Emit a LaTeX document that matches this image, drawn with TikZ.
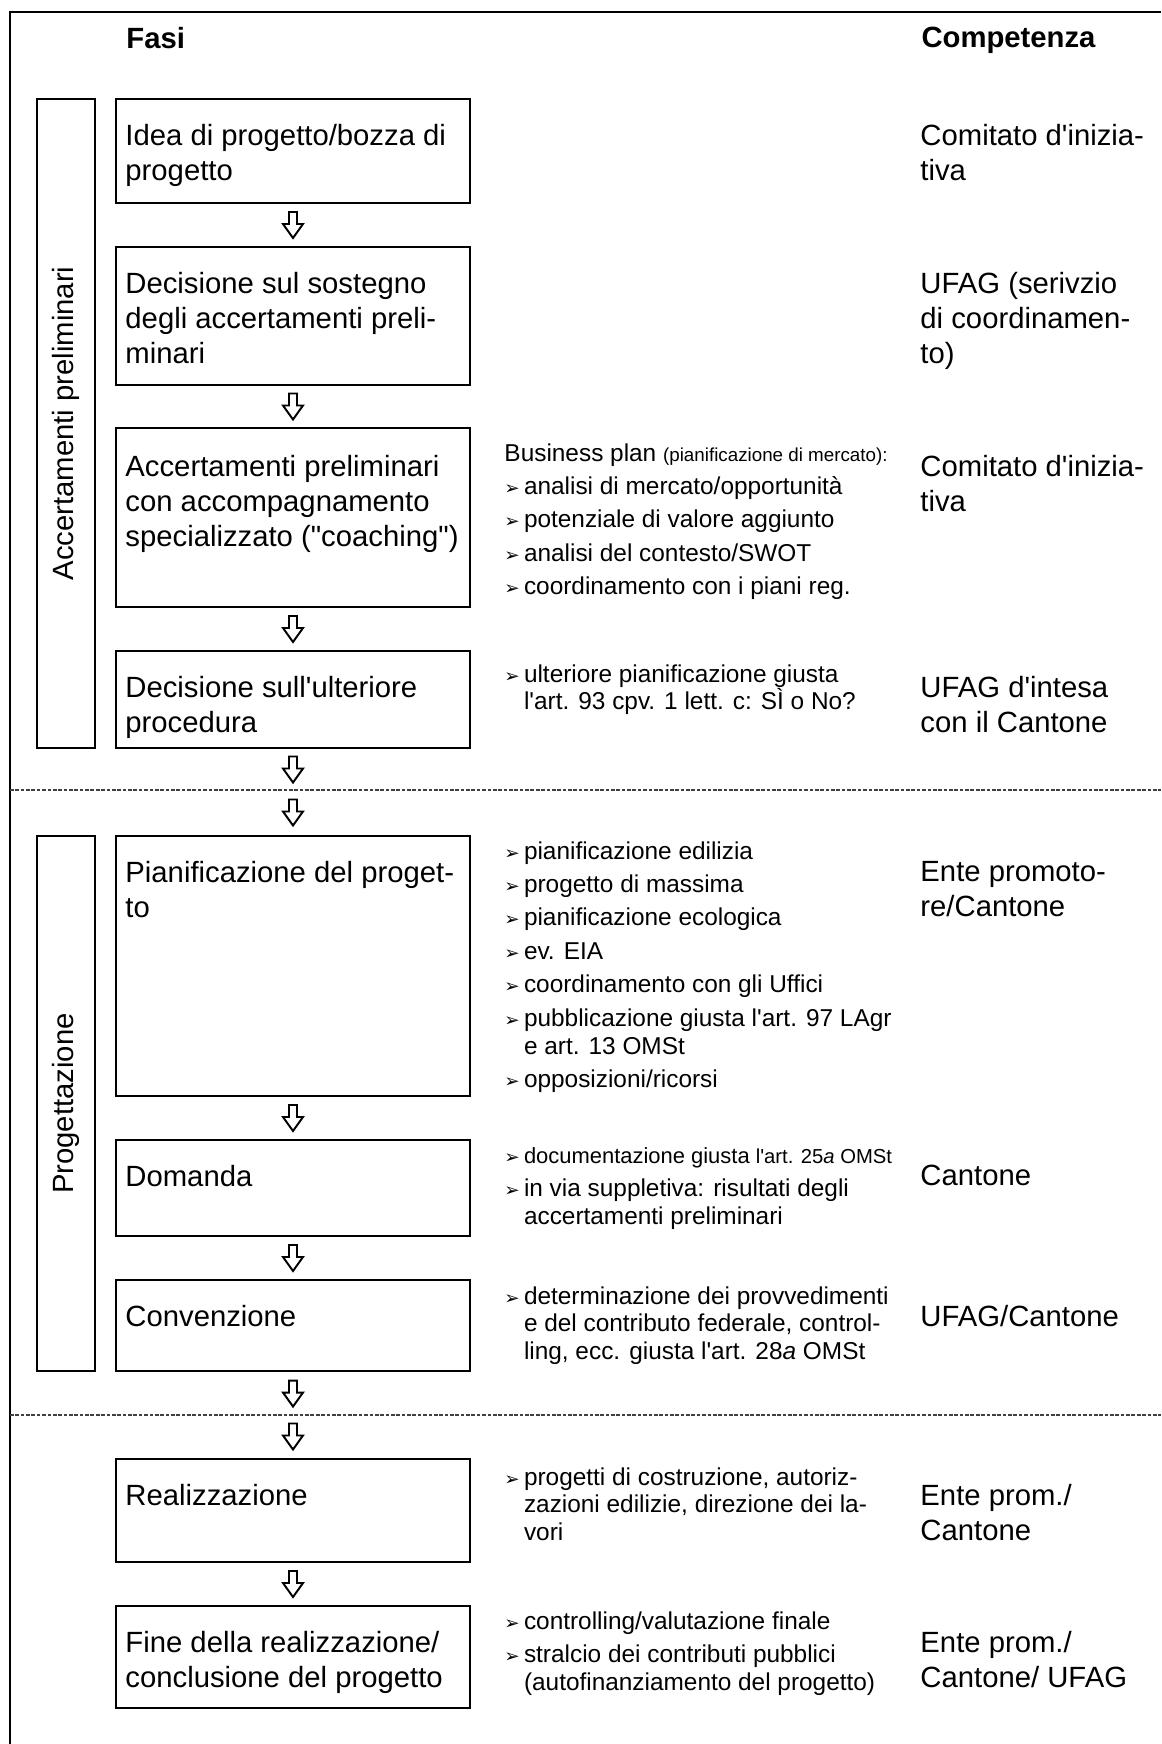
\documentclass[tikz,border=0pt]{standalone}
\usepackage{fontspec}
\setmainfont{Liberation Sans}[Ligatures=TeXOff]
\newfontfamily\dvsymb{DejaVu Sans}
\usetikzlibrary{calc,fit}

% bullet and hanging indent for the notes column
\newcommand{\bpt}{\makebox[8pt][l]{\dvsymb\fontsize{7.5}{7.5}\selectfont ➢}}
\newcommand{\bind}{\hspace*{8pt}}
% hollow down arrow between two phases, #1 = centre coordinate
\newcommand{\hollowdown}[1]{%
  \draw[pfeil] ([shift={(-4,-13)}]#1) -- ([shift={(4,-13)}]#1) -- ([shift={(4,-1)}]#1)
    -- ([shift={(10,-1)}]#1) -- ([shift={(0,13)}]#1) -- ([shift={(-10,-1)}]#1)
    -- ([shift={(-4,-1)}]#1) -- cycle;}

\begin{document}
\begin{tikzpicture}[x=0.41pt,y=-0.41pt,
  fase/.style={draw,line width=0.85pt,inner sep=0pt},
  fasetxt/.style={anchor=north west,inner sep=0pt,align=left,font=\fontsize{12}{14.3}\selectfont},
  note/.style={anchor=north west,inner sep=0pt,align=left,font=\fontsize{10}{11.4}\selectfont},
  head/.style={anchor=north west,inner sep=0pt,font=\bfseries\fontsize{12}{14.3}\selectfont},
  side/.style={rotate=90,inner sep=0pt,font=\fontsize{12}{14.3}\selectfont},
  pfeil/.style={draw,fill=white,line width=0.8pt,line join=miter},
  sep/.style={draw=black!75,line width=0.6pt,dash pattern=on 1.5pt off 0.7pt}]

\useasboundingbox (0,0) rectangle (1161,1744);

% outer frame (only top and left edge visible)
\draw[line width=1.2pt] (1161,12) -- (10,12) -- (10,1744);

% column headings
\node[head] (h1) at (126,27) {Fasi};
\node[head] (h2) at (921,27) {Competenza};

% side boxes for the two stages
\node[fase,fit={(37,99) (95,748)}] (s1) {};
\node[side] (s1t) at (s1.center) {Accertamenti preliminari};
\node[fase,fit={(37,836) (95,1371)}] (s2) {};
\node[side] (s2t) at (s2.center) {Progettazione};

% phase boxes
\node[fase,fit={(116,99) (470,203)}] (b1) {};
\node[fase,fit={(116,247) (470,385)}] (b2) {};
\node[fase,fit={(116,428) (470,607)}] (b3) {};
\node[fase,fit={(116,651) (470,748)}] (b4) {};
\node[fase,fit={(116,836) (470,1096)}] (b5) {};
\node[fase,fit={(116,1140) (470,1236)}] (b6) {};
\node[fase,fit={(116,1280) (470,1371)}] (b7) {};
\node[fase,fit={(116,1459) (470,1562)}] (b8) {};
\node[fase,fit={(116,1606) (470,1708)}] (b9) {};

% phase names
\node[fasetxt] (b1t) at ([shift={(10,26)}]b1.north west) {Idea di progetto/bozza di\\progetto};
\node[fasetxt] (b2t) at ([shift={(10,26)}]b2.north west) {Decisione sul sostegno\\degli accertamenti preli-\\minari};
\node[fasetxt] (b3t) at ([shift={(10,28)}]b3.north west) {Accertamenti preliminari\\con accompagnamento\\specializzato ("coaching")};
\node[fasetxt] (b4t) at ([shift={(10,26)}]b4.north west) {Decisione sull'ulteriore\\procedura};
\node[fasetxt] (b5t) at ([shift={(10,26)}]b5.north west) {Pianificazione del proget-\\to};
\node[fasetxt] (b6t) at ([shift={(10,26)}]b6.north west) {Domanda};
\node[fasetxt] (b7t) at ([shift={(10,26)}]b7.north west) {Convenzione};
\node[fasetxt] (b8t) at ([shift={(10,26)}]b8.north west) {Realizzazione};
\node[fasetxt] (b9t) at ([shift={(10,26)}]b9.north west) {Fine della realizzazione/\\conclusione del progetto};

% competence column
\node[fasetxt] (k1) at ([shift={(805,26)}]b1.north west) {Comitato d'inizia-\\tiva};
\node[fasetxt] (k2) at ([shift={(805,26)}]b2.north west) {UFAG (serivzio\\di coordinamen-\\to)};
\node[fasetxt] (k3) at ([shift={(805,28)}]b3.north west) {Comitato d'inizia-\\tiva};
\node[fasetxt] (k4) at ([shift={(805,26)}]b4.north west) {UFAG d'intesa\\con il Cantone};
\node[fasetxt] (k5) at ([shift={(805,26)}]b5.north west) {Ente promoto-\\re/Cantone};
\node[fasetxt] (k6) at ([shift={(805,26)}]b6.north west) {Cantone};
\node[fasetxt] (k7) at ([shift={(805,26)}]b7.north west) {UFAG/Cantone};
\node[fasetxt] (k8) at ([shift={(805,26)}]b8.north west) {Ente prom./\\Cantone};
\node[fasetxt] (k9) at ([shift={(805,26)}]b9.north west) {Ente prom./\\Cantone/ UFAG};

% notes column
\node[note] (m3) at (504,443) {Business plan {\fontsize{7.7}{11.4}\selectfont(pianificazione di mercato):}\\[2.3pt]
  \bpt analisi di mercato/opportunità\\[2.3pt]
  \bpt potenziale di valore aggiunto\\[2.3pt]
  \bpt analisi del contesto/SWOT\\[2.3pt]
  \bpt coordinamento con i piani reg.};
\node[note] (m4) at (504,664) {\bpt ulteriore pianificazione giusta\\
  \bind l'art. 93 cpv. 1 lett. c: SÌ o No?};
\node[note] (m5) at (504,841) {\bpt pianificazione edilizia\\[2.3pt]
  \bpt progetto di massima\\[2.3pt]
  \bpt pianificazione ecologica\\[2.3pt]
  \bpt ev. EIA\\[2.3pt]
  \bpt coordinamento con gli Uffici\\[2.3pt]
  \bpt pubblicazione giusta l'art. 97 LAgr\\
  \bind e art. 13 OMSt\\[2.3pt]
  \bpt opposizioni/ricorsi};
\node[note] (m6) at (504,1147) {\bpt{\fontsize{9}{11.4}\selectfont documentazione giusta \fontsize{8.3}{11.4}\selectfont l'art. 25\textit{a} OMSt}\\[2.3pt]
  \bpt in via suppletiva: risultati degli\\
  \bind accertamenti preliminari};
\node[note] (m7) at (504,1286) {\bpt determinazione dei provvedimenti\\
  \bind e del contributo federale, control-\\
  \bind ling, ecc. giusta l'art. 28\textit{a} OMSt};
\node[note] (m8) at (504,1467) {\bpt progetti di costruzione, autoriz-\\
  \bind zazioni edilizie, direzione dei la-\\
  \bind vori};
\node[note] (m9) at (504,1611) {\bpt controlling/valutazione finale\\[2.3pt]
  \bpt stralcio dei contributi pubblici\\
  \bind (autofinanziamento del progetto)};

% dashed separators between the stages
\coordinate (d1) at (10,790);
\coordinate (d2) at (10,1415);
\draw[sep] (d1) -- (1161,790);
\draw[sep] (d2) -- (1161,1415);

% arrows between the phases
\foreach \a/\b [count=\i] in {b1/b2,b2/b3,b3/b4,b5/b6,b6/b7,b8/b9}
  \coordinate (p\i) at ($(\a.south)!0.5!(\b.north)$);
\coordinate (q1) at ($(b4.south)!0.5!(b4.south |- d1)$);
\coordinate (q2) at ($(b5.north)!0.5!(b5.north |- d1)$);
\coordinate (q3) at ($(b7.south)!0.5!(b7.south |- d2)$);
\coordinate (q4) at ($(b8.north)!0.5!(b8.north |- d2)$);
\foreach \c in {p1,p2,p3,p4,p5,p6,q1,q2,q3,q4}
  \hollowdown{\c};

\end{tikzpicture}
\end{document}
